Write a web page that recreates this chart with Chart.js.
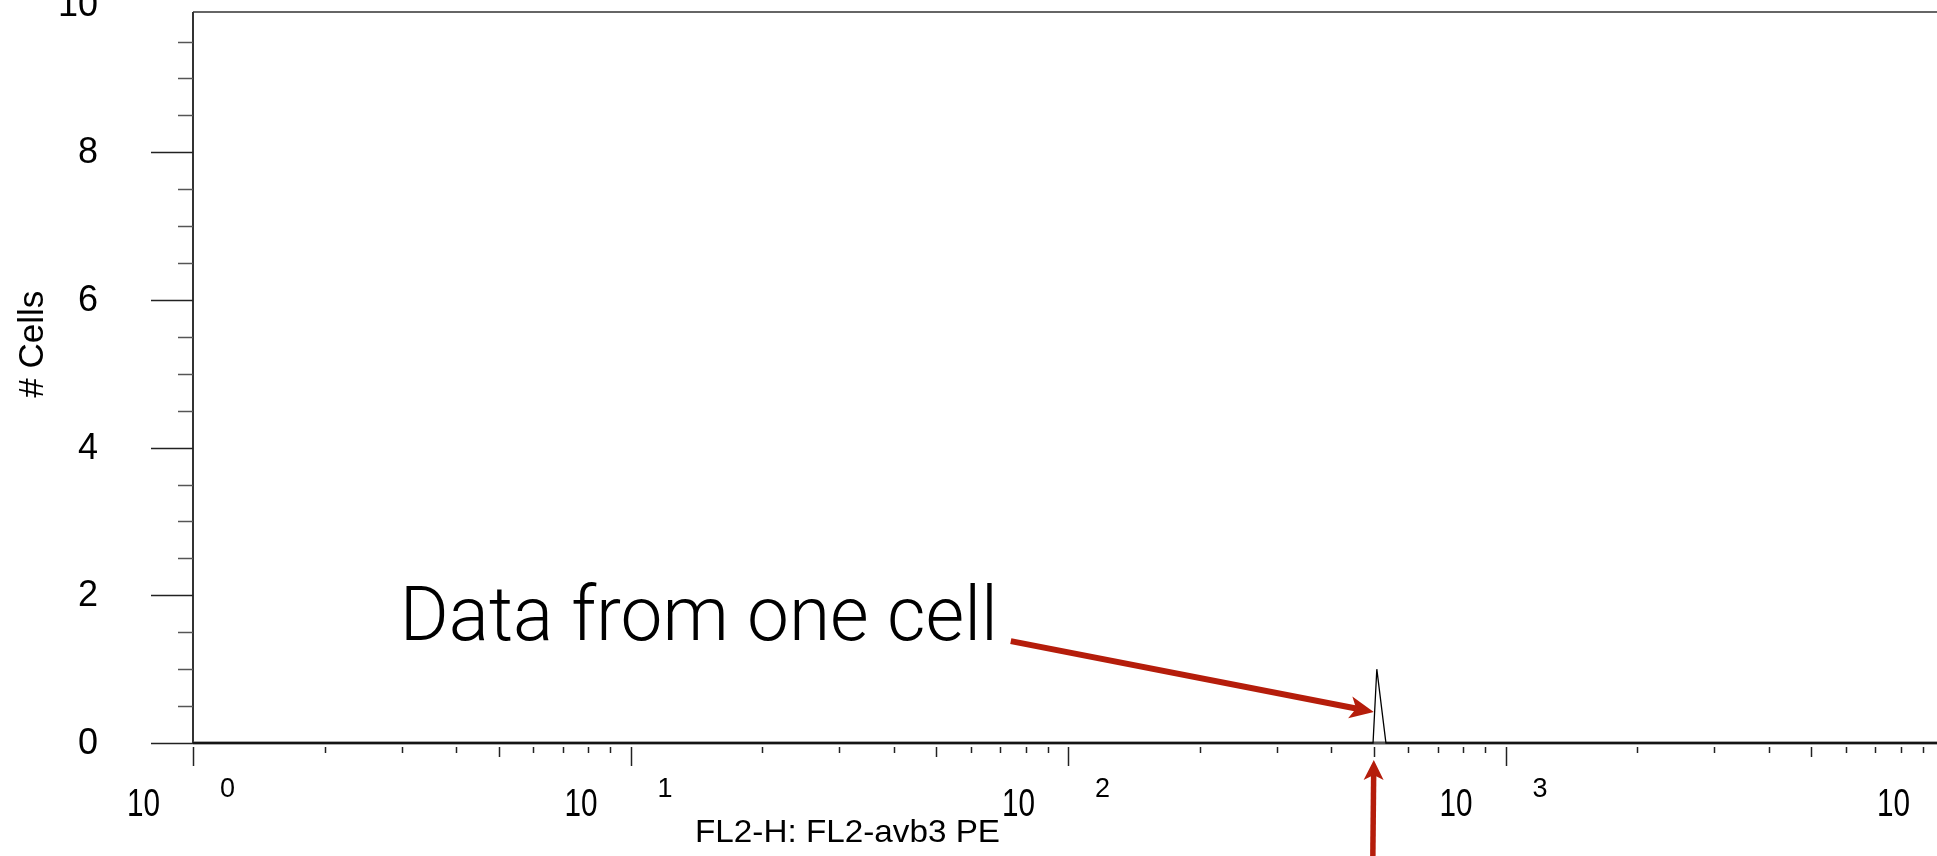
<!DOCTYPE html>
<html>
<head>
<meta charset="utf-8">
<title>FL2-H histogram</title>
<script src="https://cdn.jsdelivr.net/npm/chart.js@4.4.0/dist/chart.umd.min.js"></script>
<style>
  html, body { margin: 0; padding: 0; background: #fff; overflow: hidden; }
  #wrap { width: 1937px; height: 856px; overflow: hidden; }
</style>
</head>
<body>
<div id="wrap"><canvas id="histChart" width="1960" height="856"></canvas></div>
<script>
// FL2-H values (log axis) and # cells
const fl2Values = [1, 498, 508, 533, 10000];
const cellCounts = [0, 0, 1, 0, 0];

// tick labels
const yLabels = [0, 2, 4, 6, 8, 10];
const xDecades = [1, 10, 100, 1000, 10000];
const xExponents = ['0', '1', '2', '3', '4'];

const xTitle = 'FL2-H: FL2-avb3 PE';
const yTitle = '# Cells';
const noteText = 'Data from one cell';

// annotation anchors, in data units
const noteAt = { x: 2.97, y: 1.4 };
const arrowFrom = { x: 74, y: 1.38 };
const arrowTo = { x: 500, y: 0.42 };
const markAt = 500;

const RED = '#b51d0b';

// draw text squeezed/stretched to a given width
function fitText(ctx, text, x, y, w, align) {
    const m = ctx.measureText(text).width;
    ctx.save();
    ctx.translate(x, y);
    ctx.scale(w / m, 1);
    ctx.textAlign = align;
    ctx.fillText(text, 0, 0);
    ctx.restore();
}

function arrow(ctx, x1, y1, x2, y2, width, headLen, headW) {
    const a = Math.atan2(y2 - y1, x2 - x1);
    const c = Math.cos(a), s = Math.sin(a);
    const bx = x2 - headLen * c, by = y2 - headLen * s;
    const nx = x2 - headLen * 0.75 * c, ny = y2 - headLen * 0.75 * s;
    ctx.strokeStyle = RED;
    ctx.lineWidth = width;
    ctx.lineCap = 'butt';
    ctx.beginPath();
    ctx.moveTo(x1, y1);
    ctx.lineTo(nx, ny);
    ctx.stroke();
    ctx.fillStyle = RED;
    ctx.beginPath();
    ctx.moveTo(x2, y2);
    ctx.lineTo(bx + headW / 2 * s, by - headW / 2 * c);
    ctx.lineTo(nx, ny);
    ctx.lineTo(bx - headW / 2 * s, by + headW / 2 * c);
    ctx.closePath();
    ctx.fill();
}

const frame = {
    id: 'frame',
    beforeDatasetsDraw(chart) {
        const { ctx, chartArea: a } = chart;
        const xs = chart.scales.x, ys = chart.scales.y;
        const y0 = ys.getPixelForValue(0);
        ctx.save();
        // box
        ctx.strokeStyle = '#666';
        ctx.lineWidth = 2;
        ctx.beginPath();
        ctx.moveTo(a.left, a.top);
        ctx.lineTo(chart.width, a.top);
        ctx.stroke();
        ctx.strokeStyle = '#333';
        ctx.beginPath();
        ctx.moveTo(a.left, a.top);
        ctx.lineTo(a.left, y0);
        ctx.stroke();
        ctx.strokeStyle = '#555';
        ctx.lineWidth = 3;
        ctx.beginPath();
        ctx.moveTo(a.left, y0);
        ctx.lineTo(chart.width, y0);
        ctx.stroke();

        // y ticks every 0.5, long ones on the labels
        ctx.lineWidth = 1.5;
        for (let v = 0; v <= ys.max + 1e-9; v += 0.5) {
            const py = Math.round(ys.getPixelForValue(v)) + 0.5;
            const len = (v % 2 === 0) ? 42 : 15;
            ctx.strokeStyle = (v % 2 === 0) ? '#222' : '#555';
            ctx.beginPath();
            ctx.moveTo(a.left - len, py);
            ctx.lineTo(a.left, py);
            ctx.stroke();
        }
        // x log ticks
        const ty = y0 + 4;
        ctx.strokeStyle = '#222';
        xDecades.forEach((d, i) => {
            for (let m = 1; m <= 9; m++) {
                if (i === xDecades.length - 1 && m > 1) break;
                const px = Math.round(xs.getPixelForValue(d * m)) + 0.5;
                const len = m === 1 ? 19 : (m === 5 ? 10 : 6);
                ctx.beginPath();
                ctx.moveTo(px, ty);
                ctx.lineTo(px, ty + len);
                ctx.stroke();
            }
        });
        ctx.restore();
    },
    afterDraw(chart) {
        const { ctx, chartArea: a } = chart;
        const xs = chart.scales.x, ys = chart.scales.y;
        const y0 = ys.getPixelForValue(0);
        ctx.save();
        ctx.fillStyle = '#000';

        // y labels
        ctx.font = '36px "Liberation Sans", Arial, sans-serif';
        ctx.textAlign = 'right';
        ctx.textBaseline = 'middle';
        yLabels.forEach(v => ctx.fillText(String(v), a.left - 95, ys.getPixelForValue(v) + 1));

        // x labels: 10 with the exponent on the other side of the tick
        ctx.textBaseline = 'alphabetic';
        xDecades.forEach((d, i) => {
            const px = xs.getPixelForValue(d);
            ctx.font = '39px "Liberation Sans", Arial, sans-serif';
            fitText(ctx, '10', px - 33, y0 + 73, 33, 'right');
            ctx.font = '27px "Liberation Sans", Arial, sans-serif';
            ctx.textAlign = 'left';
            ctx.fillText(xExponents[i], px + 27, y0 + 54);
        });

        // axis titles
        ctx.font = '32px "Liberation Sans", Arial, sans-serif';
        fitText(ctx, xTitle, a.left + 0.374 * (a.right - a.left), y0 + 99, 305, 'center');
        ctx.save();
        ctx.font = '35px "Liberation Sans", Arial, sans-serif';
        ctx.translate(43, ys.getPixelForValue(5.4));
        ctx.rotate(-Math.PI / 2);
        ctx.textAlign = 'center';
        ctx.fillText(yTitle, 0, 0);
        ctx.restore();

        // annotation
        ctx.font = '300 76px Roboto, Inter, "Open Sans", sans-serif';
        fitText(ctx, noteText, xs.getPixelForValue(noteAt.x), ys.getPixelForValue(noteAt.y), 598, 'left');
        arrow(ctx, xs.getPixelForValue(arrowFrom.x), ys.getPixelForValue(arrowFrom.y),
              xs.getPixelForValue(arrowTo.x), ys.getPixelForValue(arrowTo.y), 6, 24, 22);
        const mx = xs.getPixelForValue(markAt);
        arrow(ctx, mx - 1, chart.height + 5, mx, y0 + 17, 5.5, 20, 20);
        ctx.restore();
    }
};

new Chart(document.getElementById('histChart'), {
    type: 'scatter',
    data: {
        datasets: [{
            label: '# Cells',
            data: fl2Values.map((v, i) => ({ x: v, y: cellCounts[i] })),
            showLine: true,
            borderColor: '#000',
            borderWidth: 1.3,
            pointRadius: 0,
            tension: 0,
            clip: false
        }]
    },
    options: {
        responsive: false,
        animation: false,
        layout: { padding: { left: 193, right: 17, top: 12, bottom: 113 } },
        plugins: { legend: { display: false }, tooltip: { enabled: false } },
        scales: {
            x: { type: 'logarithmic', min: 1, max: 10000, display: false },
            y: { type: 'linear', min: 0, max: 9.9, display: false }
        }
    },
    plugins: [frame]
});
</script>
</body>
</html>
